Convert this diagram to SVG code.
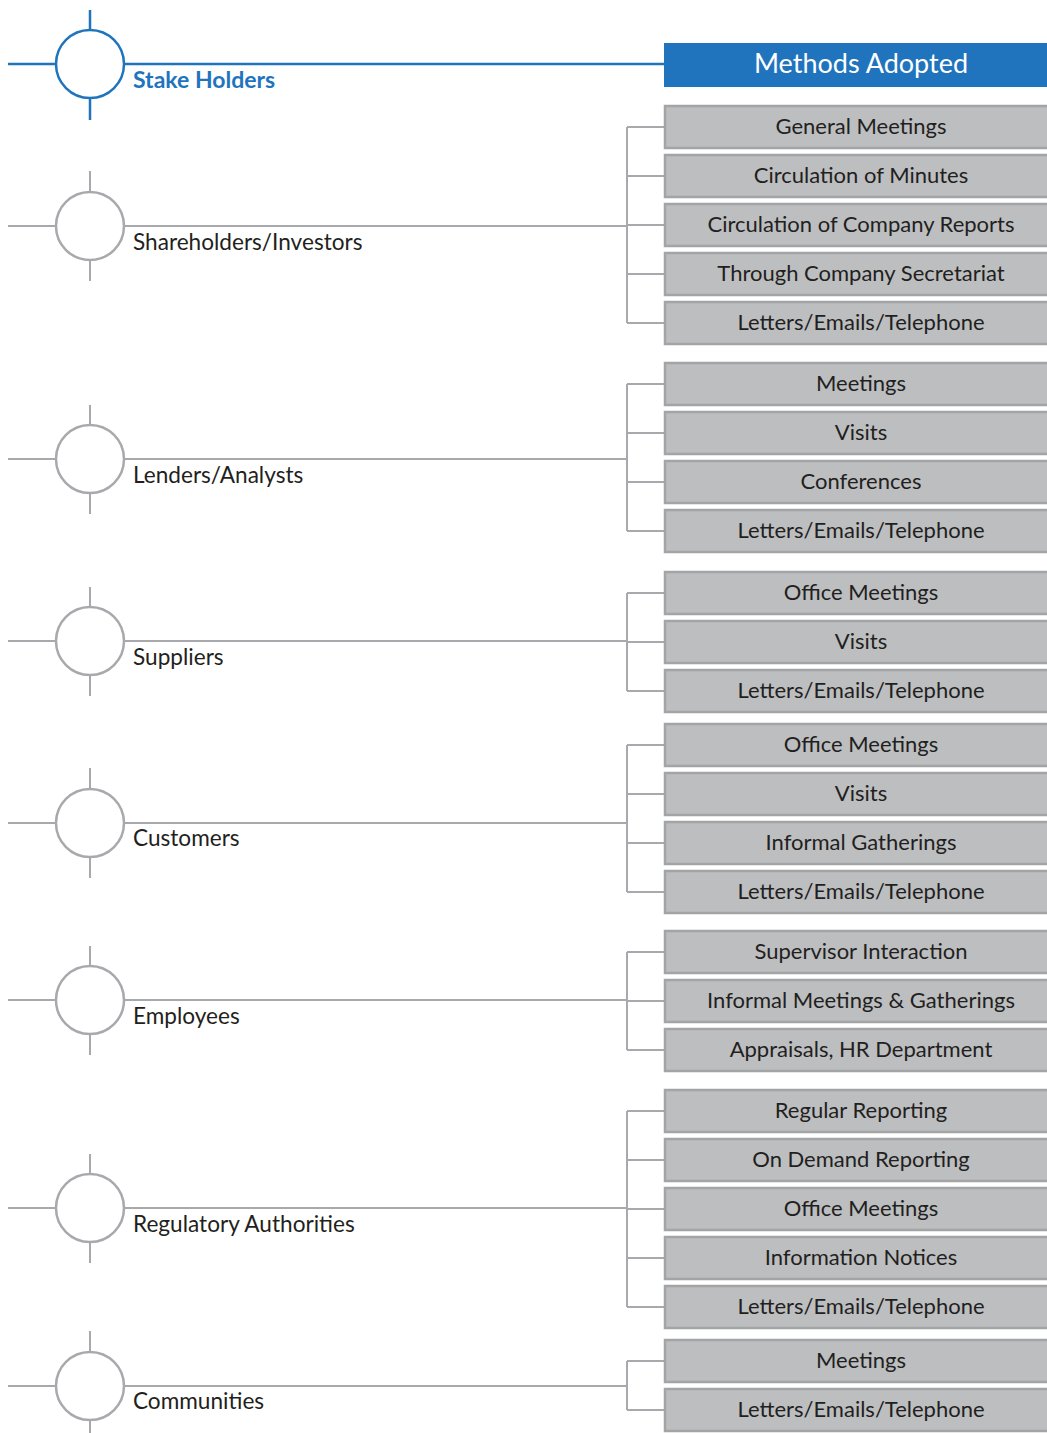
<svg xmlns="http://www.w3.org/2000/svg" width="1047" height="1433" viewBox="0 0 1047 1433">
<style>
.ln{stroke:#a7a9ac;stroke-width:2;fill:none}
.cir{stroke:#a7a9ac;stroke-width:2.5;fill:#fff}
.box{fill:#bcbec0;stroke:#a3a4a6;stroke-width:2.5}
.bt{font-family:Lato,"Open Sans",sans-serif;font-size:22px;fill:#231f20;text-anchor:middle}
.st{font-family:Lato,"Open Sans",sans-serif;font-size:22.6px;fill:#231f20}
</style>
<rect width="1047" height="1433" fill="#fff"/>
<g id="connectors">
<line x1="8" y1="64" x2="664" y2="64" stroke="#1f74bd" stroke-width="2.5"/>
<line x1="90" y1="10" x2="90" y2="120" stroke="#1f74bd" stroke-width="2.5"/>
<path class="ln" d="M8 226H627M627 127V323M627 127H664M627 176H664M627 225H664M627 274H664M627 323H664M90 171V281"/>
<path class="ln" d="M8 459H627M627 384V531M627 384H664M627 433H664M627 482H664M627 531H664M90 405V514"/>
<path class="ln" d="M8 641H627M627 593V691M627 593H664M627 642H664M627 691H664M90 587V696"/>
<path class="ln" d="M8 823H627M627 745V892M627 745H664M627 794H664M627 843H664M627 892H664M90 768V878"/>
<path class="ln" d="M8 1000H627M627 952V1050M627 952H664M627 1001H664M627 1050H664M90 946V1055"/>
<path class="ln" d="M8 1208H627M627 1111V1307M627 1111H664M627 1160H664M627 1209H664M627 1258H664M627 1307H664M90 1154V1263"/>
<path class="ln" d="M8 1386H627M627 1361V1410M627 1361H664M627 1410H664M90 1331V1433"/>
</g>
<g id="header">
<circle cx="90" cy="64" r="34" fill="#fff" stroke="#1f74bd" stroke-width="2.5"/>
<text x="133" y="88" font-family="Lato,'Open Sans',sans-serif" font-size="23" font-weight="bold" fill="#1f74bd">Stake Holders</text>
<rect x="664" y="43" width="383" height="44" fill="#1f74bd"/>
<text x="861" y="73" font-family="Lato,'Open Sans',sans-serif" font-size="27" fill="#fff" text-anchor="middle">Methods Adopted</text>
</g>
<g id="shareholders">
<circle class="cir" cx="90" cy="226" r="34"/>
<text class="st" x="133" y="250">Shareholders/Investors</text>
</g>
<g id="lenders">
<circle class="cir" cx="90" cy="459" r="34"/>
<text class="st" x="133" y="483">Lenders/Analysts</text>
</g>
<g id="suppliers">
<circle class="cir" cx="90" cy="641" r="34"/>
<text class="st" x="133" y="665">Suppliers</text>
</g>
<g id="customers">
<circle class="cir" cx="90" cy="823" r="34"/>
<text class="st" x="133" y="846">Customers</text>
</g>
<g id="employees">
<circle class="cir" cx="90" cy="1000" r="34"/>
<text class="st" x="133" y="1024">Employees</text>
</g>
<g id="regulatory">
<circle class="cir" cx="90" cy="1208" r="34"/>
<text class="st" x="133" y="1232">Regulatory Authorities</text>
</g>
<g id="communities">
<circle class="cir" cx="90" cy="1386" r="34"/>
<text class="st" x="133" y="1409">Communities</text>
</g>
<g id="m1"><rect class="box" x="665" y="106" width="384" height="42"/><text class="bt" x="861" y="134">General Meetings</text></g>
<g id="m2"><rect class="box" x="665" y="155" width="384" height="42"/><text class="bt" x="861" y="183">Circulation of Minutes</text></g>
<g id="m3"><rect class="box" x="665" y="204" width="384" height="42"/><text class="bt" x="861" y="232">Circulation of Company Reports</text></g>
<g id="m4"><rect class="box" x="665" y="253" width="384" height="42"/><text class="bt" x="861" y="281">Through Company Secretariat</text></g>
<g id="m5"><rect class="box" x="665" y="302" width="384" height="42"/><text class="bt" x="861" y="330">Letters/Emails/Telephone</text></g>
<g id="m6"><rect class="box" x="665" y="363" width="384" height="42"/><text class="bt" x="861" y="391">Meetings</text></g>
<g id="m7"><rect class="box" x="665" y="412" width="384" height="42"/><text class="bt" x="861" y="440">Visits</text></g>
<g id="m8"><rect class="box" x="665" y="461" width="384" height="42"/><text class="bt" x="861" y="489">Conferences</text></g>
<g id="m9"><rect class="box" x="665" y="510" width="384" height="42"/><text class="bt" x="861" y="538">Letters/Emails/Telephone</text></g>
<g id="m10"><rect class="box" x="665" y="572" width="384" height="42"/><text class="bt" x="861" y="600">Office Meetings</text></g>
<g id="m11"><rect class="box" x="665" y="621" width="384" height="42"/><text class="bt" x="861" y="649">Visits</text></g>
<g id="m12"><rect class="box" x="665" y="670" width="384" height="42"/><text class="bt" x="861" y="698">Letters/Emails/Telephone</text></g>
<g id="m13"><rect class="box" x="665" y="724" width="384" height="42"/><text class="bt" x="861" y="752">Office Meetings</text></g>
<g id="m14"><rect class="box" x="665" y="773" width="384" height="42"/><text class="bt" x="861" y="801">Visits</text></g>
<g id="m15"><rect class="box" x="665" y="822" width="384" height="42"/><text class="bt" x="861" y="850">Informal Gatherings</text></g>
<g id="m16"><rect class="box" x="665" y="871" width="384" height="42"/><text class="bt" x="861" y="899">Letters/Emails/Telephone</text></g>
<g id="m17"><rect class="box" x="665" y="931" width="384" height="42"/><text class="bt" x="861" y="959">Supervisor Interaction</text></g>
<g id="m18"><rect class="box" x="665" y="980" width="384" height="42"/><text class="bt" x="861" y="1008">Informal Meetings &amp; Gatherings</text></g>
<g id="m19"><rect class="box" x="665" y="1029" width="384" height="42"/><text class="bt" x="861" y="1057">Appraisals, HR Department</text></g>
<g id="m20"><rect class="box" x="665" y="1090" width="384" height="42"/><text class="bt" x="861" y="1118">Regular Reporting</text></g>
<g id="m21"><rect class="box" x="665" y="1139" width="384" height="42"/><text class="bt" x="861" y="1167">On Demand Reporting</text></g>
<g id="m22"><rect class="box" x="665" y="1188" width="384" height="42"/><text class="bt" x="861" y="1216">Office Meetings</text></g>
<g id="m23"><rect class="box" x="665" y="1237" width="384" height="42"/><text class="bt" x="861" y="1265">Information Notices</text></g>
<g id="m24"><rect class="box" x="665" y="1286" width="384" height="42"/><text class="bt" x="861" y="1314">Letters/Emails/Telephone</text></g>
<g id="m25"><rect class="box" x="665" y="1340" width="384" height="42"/><text class="bt" x="861" y="1368">Meetings</text></g>
<g id="m26"><rect class="box" x="665" y="1389" width="384" height="42"/><text class="bt" x="861" y="1417">Letters/Emails/Telephone</text></g>
</svg>
